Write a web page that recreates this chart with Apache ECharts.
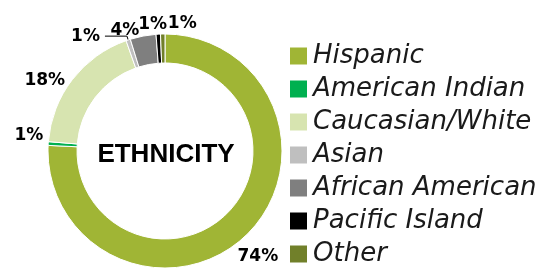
<!DOCTYPE html>
<html>
<head>
<meta charset="utf-8">
<script src="https://cdn.jsdelivr.net/npm/echarts@6/dist/echarts.min.js"></script>
<style>
  html, body { margin: 0; padding: 0; background: #fff; }
  #chart { width: 555px; height: 272px; }
</style>
</head>
<body>
<div id="chart"></div>
<script>
const categories = ['Hispanic', 'American Indian', 'Caucasian/White', 'Asian', 'African American', 'Pacific Island', 'Other'];
const shares = [74.4, 0.5, 18, 0.6, 3.5, 0.6, 0.6];
const colors = ['#A0B535', '#00B050', '#D7E4B0', '#BFBFBF', '#7F7F7F', '#000000', '#71802A'];
// small nudges so the labels sit where Excel put them
const labelNudge = [[-16, 18], [4, -8], [1, 3], [0, 0], [2, -2], [14, -6], [39, -6]];

const chart = echarts.init(document.getElementById('chart'));

const pieData = categories.map((name, i) => ({
  name: name,
  value: shares[i],
  itemStyle: { color: colors[i] },
  // only the Asian slice has a visible leader line
  labelLine: name === 'Asian'
    ? { show: true, length: 4, length2: 22, lineStyle: { color: '#000', width: 1 } }
    : { show: false }
}));

const option = {
  animation: false,
  graphic: [{
    type: 'text',
    x: 166,
    y: 155,
    style: {
      text: 'ETHNICITY',
      font: 'bold 26px "Liberation Sans", sans-serif',
      fill: '#000',
      textAlign: 'center',
      textVerticalAlign: 'middle'
    }
  }],
  legend: {
    orient: 'vertical',
    left: 288,
    top: 43,
    padding: 0,
    itemWidth: 19,
    itemHeight: 19,
    itemGap: 7,
    icon: 'rect',
    data: categories,
    textStyle: { fontSize: 26, fontStyle: 'italic', color: '#1a1a1a', fontFamily: 'DejaVu Sans' }
  },
  series: [{
    type: 'pie',
    center: [165, 151],
    radius: [88, 117],
    startAngle: 90,
    clockwise: true,
    avoidLabelOverlap: false,
    itemStyle: { borderColor: '#fff', borderWidth: 1 },
    label: {
      show: true,
      position: 'outside',
      overflow: 'none',
      formatter: p => Math.round(p.value) + '%',
      fontSize: 17,
      fontWeight: 'bold',
      color: '#000',
      fontFamily: 'DejaVu Sans'
    },
    labelLine: { length: 4, length2: 0 },
    labelLayout: p => ({ dx: labelNudge[p.dataIndex][0], dy: labelNudge[p.dataIndex][1] }),
    emphasis: { scale: false },
    data: pieData
  }]
};
chart.setOption(option);
</script>
</body>
</html>
